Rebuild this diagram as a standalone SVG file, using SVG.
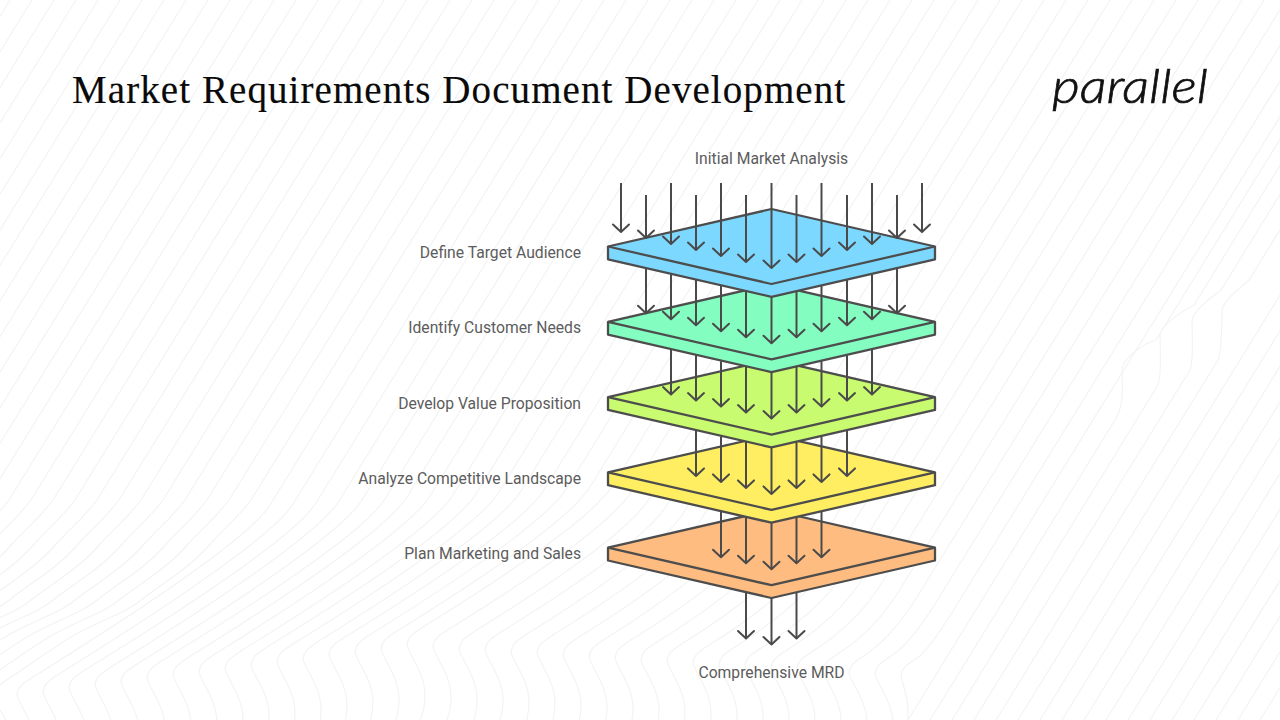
<svg xmlns="http://www.w3.org/2000/svg" width="1280" height="720" viewBox="0 0 1280 720">
<style>
.bg{fill:none;stroke:#f3f3f3;stroke-width:1.2}
.plate polygon{stroke:#4d4d4d;stroke-width:2.3;stroke-linejoin:round}
.plate path{fill:none;stroke:#4d4d4d;stroke-width:2.3;stroke-linejoin:round}
.lbl{font-family:Roboto,"Liberation Sans",sans-serif;font-size:15.7px;fill:#5c5c5c}
.e{text-anchor:end}.m{text-anchor:middle}
#connectors line{stroke:#4a4a4a;stroke-width:2;fill:none;marker-end:url(#a)}
</style>
<defs>
<marker id="a" markerUnits="userSpaceOnUse" viewBox="-10 -10 12 20" refX="0" refY="0" markerWidth="12" markerHeight="20" orient="auto"><path d="M-7.5 -8 L0 0 L-7.5 8" fill="none" stroke="#4a4a4a" stroke-width="2" stroke-linecap="round" stroke-linejoin="round"/></marker>
<path id="wa" d="M15 800C30 770 38 750 30 725C25 712 15 703 17 695C18 686 24 683 33 677C55 663 78 645 100 633C130 617 150 612 167 597C190 580 215 565 233 543C250 525 262 515 273 500L582 0"/>
</defs>
<rect width="1280" height="720" fill="#fff"/>
<g id="background" class="bg">
<use href="#wa" x="-594"/><use href="#wa" x="-572"/><use href="#wa" x="-550"/><use href="#wa" x="-528"/><use href="#wa" x="-506"/><use href="#wa" x="-484"/><use href="#wa" x="-462"/><use href="#wa" x="-440"/><use href="#wa" x="-418"/><use href="#wa" x="-396"/><use href="#wa" x="-374"/><use href="#wa" x="-352"/><use href="#wa" x="-330"/><use href="#wa" x="-308"/><use href="#wa" x="-286"/><use href="#wa" x="-264"/><use href="#wa" x="-242"/><use href="#wa" x="-220"/><use href="#wa" x="-198"/><use href="#wa" x="-176"/><use href="#wa" x="-154"/><use href="#wa" x="-132"/><use href="#wa" x="-110"/><use href="#wa" x="-88"/><use href="#wa" x="-66"/><use href="#wa" x="-44"/><use href="#wa" x="-22"/>
<path d="M17 695c2 10 18 28 18 50s-8 30 -18 50M17 695c1 -9 7 -12 16 -18Q245 545 270 505L582 0"/>
<path d="M43 692c2 10 18 28 18 50s-8 30 -18 50M43 692c1 -9 7 -12 16 -18Q268 544 293 504L604 0"/>
<path d="M69 688c2 10 18 28 18 50s-8 30 -18 50M69 688c1 -9 7 -12 16 -18Q291 543 316 503L626 0"/>
<path d="M95 685c2 10 18 28 18 50s-8 30 -18 50M95 685c1 -9 7 -12 16 -18Q314 541 339 501L648 0"/>
<path d="M121 682c2 10 18 28 18 50s-8 30 -18 50M121 682c1 -9 7 -12 16 -18Q337 540 362 500L670 0"/>
<path d="M147 678c2 10 18 28 18 50s-8 30 -18 50M147 678c1 -9 7 -12 16 -18Q360 539 385 499L692 0"/>
<path d="M173 675c2 10 18 28 18 50s-8 30 -18 50M173 675c1 -9 7 -12 16 -18Q382 537 407 497L714 0"/>
<path d="M199 672c2 10 18 28 18 50s-8 30 -18 50M199 672c1 -9 7 -12 16 -18Q405 536 430 496L736 0"/>
<path d="M225 669c2 10 18 28 18 50s-8 30 -18 50M225 669c1 -9 7 -12 16 -18Q428 535 453 495L758 0"/>
<path d="M251 665c2 10 18 28 18 50s-8 30 -18 50M251 665c1 -9 7 -12 16 -18Q451 534 476 494L780 0"/>
<path d="M277 662c2 10 18 28 18 50s-8 30 -18 50M277 662c1 -9 7 -12 16 -18Q474 532 499 492L802 0"/>
<path d="M303 659c2 10 18 28 18 50s-8 30 -18 50M303 659c1 -9 7 -12 16 -18Q496 531 521 491L824 0"/>
<path d="M329 655c2 10 18 28 18 50s-8 30 -18 50M329 655c1 -9 7 -12 16 -18Q519 530 544 490L846 0"/>
<path d="M355 652c2 10 18 28 18 50s-8 30 -18 50M355 652c1 -9 7 -12 16 -18Q542 528 567 488L868 0"/>
<path d="M381 649c2 10 18 28 18 50s-8 30 -18 50M381 649c1 -9 7 -12 16 -18Q565 527 590 487L890 0"/>
<path d="M407 645c2 10 18 28 18 50s-8 30 -18 50M407 645c1 -9 7 -12 16 -18Q588 525 613 485L912 0"/>
<path d="M433 647c2 10 18 28 18 50s-8 30 -18 50M433 647c1 -9 7 -12 16 -18Q606 532 631 492L934 0"/>
<path d="M459 649c2 10 18 28 18 50s-8 30 -18 50M459 649c1 -9 7 -12 16 -18Q624 539 649 499L956 0"/>
<path d="M485 650c2 10 18 28 18 50s-8 30 -18 50M485 650c1 -9 7 -12 16 -18Q642 545 667 505L978 0"/>
<path d="M511 652c2 10 18 28 18 50s-8 30 -18 50M511 652c1 -9 7 -12 16 -18Q659 552 684 512L1000 0"/>
<path d="M537 653c2 10 18 28 18 50s-8 30 -18 50M537 653c1 -9 7 -12 16 -18Q677 558 702 518L1022 0"/>
<path d="M563 655c2 10 18 28 18 50s-8 30 -18 50M563 655c1 -9 7 -12 16 -18Q695 565 720 525L1044 0"/>
<path d="M589 657c2 10 18 28 18 50s-8 30 -18 50M589 657c1 -9 7 -12 16 -18Q713 571 738 531L1066 0"/>
<path d="M615 658c2 10 18 28 18 50s-8 30 -18 50M615 658c1 -9 7 -12 16 -18Q731 578 756 538L1088 0"/>
<path d="M641 660c2 10 18 28 18 50s-8 30 -18 50M641 660c1 -9 7 -12 16 -18Q749 585 774 545L1110 0"/>
<path d="M667 661c2 10 18 28 18 50s-8 30 -18 50M667 661c1 -9 7 -12 16 -18Q767 591 792 551L1132 0"/>
<path d="M693 663c2 10 18 28 18 50s-8 30 -18 50M693 663c1 -9 7 -12 16 -18Q785 598 810 558L1154 0"/>
<path d="M719 665c2 10 18 28 18 50s-8 30 -18 50M719 665c1 -9 7 -12 16 -18Q803 604 828 564L1176 0"/>
<path d="M745 666c2 10 18 28 18 50s-8 30 -18 50M745 666c1 -9 7 -12 16 -18Q820 611 845 571L1198 0"/>
<path d="M771 668c2 10 18 28 18 50s-8 30 -18 50M771 668c1 -9 7 -12 16 -18Q838 618 863 578L1220 0"/>
<path d="M797 669c2 10 18 28 18 50s-8 30 -18 50M797 669c1 -9 7 -12 16 -18Q856 624 881 584L1242 0"/>
<path d="M823 671c2 10 18 28 18 50s-8 30 -18 50M823 671c1 -9 7 -12 16 -18Q874 631 899 591L1264 0"/>
<path d="M849 673c2 10 18 28 18 50s-8 30 -18 50M849 673c1 -9 7 -12 16 -18Q892 637 917 597L1286 0"/>
<path d="M875 674c2 10 18 28 18 50s-8 30 -18 50M875 674c1 -9 7 -12 16 -18Q910 644 935 604L1308 0"/>
<path d="M901 676c2 10 10 28 6 50M901 676c1 -9 7 -12 16 -18Q928 651 953 611L1330 0"/>
<path d="M908 720L1352 0"/>
<path d="M930 720L1115 420C1125 404 1122 385 1122 370C1122 360 1140 345 1156 340L1366 0"/>
<path d="M952 720L1158 385C1162 375 1160 350 1160 335C1162 325 1180 312 1194 305L1382 0"/>
<path d="M974 720L1190 370C1194 360 1192 335 1192 320C1194 310 1210 298 1221 290L1400 0"/>
<path d="M996 720L1218 360C1222 350 1222 325 1222 310C1224 300 1240 288 1249 280L1422 0"/>
<path d="M1018 720L1462 0M1040 720L1484 0M1062 720L1506 0M1084 720L1528 0M1106 720L1550 0M1128 720L1572 0M1150 720L1594 0M1172 720L1616 0M1194 720L1638 0M1216 720L1660 0M1238 720L1682 0M1260 720L1704 0"/>
</g>
<text id="title" x="72" y="103" font-family="'Liberation Serif',serif" font-size="39" letter-spacing="1.08" fill="#0a0a0a" stroke="#0a0a0a" stroke-width="0.15">Market Requirements Document Development</text>
<text id="logo" x="1052" y="103" font-family="Lato,'Open Sans',sans-serif" font-style="italic" font-weight="300" font-size="48" fill="#111" stroke="#111" stroke-width="0.7" textLength="156" lengthAdjust="spacingAndGlyphs">parallel</text>
<g id="plate5" class="plate"><polygon fill="#FFBC80" points="608,547.7 771.5,510 935,547.7 935,560.5 771.5,598 608,560.5"/><path d="M608 547.7L771.5 585.2L935 547.7"/></g>
<g id="plate4" class="plate"><polygon fill="#FFEE62" points="608,472.4 771.5,434.9 935,472.4 935,485.2 771.5,522.7 608,485.2"/><path d="M608 472.4L771.5 509.9L935 472.4"/></g>
<g id="plate3" class="plate"><polygon fill="#C9FB70" points="608,397.1 771.5,359.6 935,397.1 935,409.9 771.5,447.4 608,409.9"/><path d="M608 397.1L771.5 434.6L935 397.1"/></g>
<g id="plate2" class="plate"><polygon fill="#84FDC0" points="608,321.8 771.5,284.3 935,321.8 935,334.6 771.5,372.1 608,334.6"/><path d="M608 321.8L771.5 359.3L935 321.8"/></g>
<g id="plate1" class="plate"><polygon fill="#7DD8FF" points="608,246.5 771.5,209 935,246.5 935,259.3 771.5,296.8 608,259.3"/><path d="M608 246.5L771.5 284L935 246.5"/></g>
<g id="connectors">
<line x1="621" y1="183" x2="621" y2="232"/><line x1="646" y1="195" x2="646" y2="238"/><line x1="671" y1="183" x2="671" y2="244"/><line x1="696" y1="195" x2="696" y2="250"/><line x1="721" y1="183" x2="721" y2="256"/><line x1="746" y1="195" x2="746" y2="262"/><line x1="771.5" y1="183" x2="771.5" y2="268"/><line x1="796.5" y1="195" x2="796.5" y2="262"/><line x1="821.5" y1="183" x2="821.5" y2="256"/><line x1="847" y1="195" x2="847" y2="250"/><line x1="872" y1="183" x2="872" y2="244"/><line x1="897" y1="195" x2="897" y2="238"/><line x1="922" y1="183" x2="922" y2="232"/>
<line x1="646" y1="268.5" x2="646" y2="313.3"/><line x1="671" y1="274.5" x2="671" y2="319.3"/><line x1="696" y1="280" x2="696" y2="325.3"/><line x1="721" y1="286" x2="721" y2="331.3"/><line x1="746" y1="291.5" x2="746" y2="337.3"/><line x1="771.5" y1="297" x2="771.5" y2="343.3"/><line x1="796.5" y1="291.5" x2="796.5" y2="337.3"/><line x1="821.5" y1="286" x2="821.5" y2="331.3"/><line x1="847" y1="280" x2="847" y2="325.3"/><line x1="872" y1="274.5" x2="872" y2="319.3"/><line x1="897" y1="268.5" x2="897" y2="313.3"/>
<line x1="671" y1="349.8" x2="671" y2="394.6"/><line x1="696" y1="355.3" x2="696" y2="400.6"/><line x1="721" y1="361.3" x2="721" y2="406.6"/><line x1="746" y1="366.8" x2="746" y2="412.6"/><line x1="771.5" y1="372.3" x2="771.5" y2="418.6"/><line x1="796.5" y1="366.8" x2="796.5" y2="412.6"/><line x1="821.5" y1="361.3" x2="821.5" y2="406.6"/><line x1="847" y1="355.3" x2="847" y2="400.6"/><line x1="872" y1="349.8" x2="872" y2="394.6"/>
<line x1="696" y1="430.6" x2="696" y2="475.9"/><line x1="721" y1="436.6" x2="721" y2="481.9"/><line x1="746" y1="442.1" x2="746" y2="487.9"/><line x1="771.5" y1="447.6" x2="771.5" y2="493.9"/><line x1="796.5" y1="442.1" x2="796.5" y2="487.9"/><line x1="821.5" y1="436.6" x2="821.5" y2="481.9"/><line x1="847" y1="430.6" x2="847" y2="475.9"/>
<line x1="721" y1="511.9" x2="721" y2="557.2"/><line x1="746" y1="517.4" x2="746" y2="563.2"/><line x1="771.5" y1="522.9" x2="771.5" y2="569.2"/><line x1="796.5" y1="517.4" x2="796.5" y2="563.2"/><line x1="821.5" y1="511.9" x2="821.5" y2="557.2"/>
<line x1="746" y1="592.7" x2="746" y2="638.5"/><line x1="771.5" y1="598.2" x2="771.5" y2="644.5"/><line x1="796.5" y1="592.7" x2="796.5" y2="638.5"/>
</g>
<g id="labels">
<text class="lbl m" x="771.5" y="163.5">Initial Market Analysis</text>
<text class="lbl e" x="581" y="258">Define Target Audience</text>
<text class="lbl e" x="581" y="333.3">Identify Customer Needs</text>
<text class="lbl e" x="581" y="408.6">Develop Value Proposition</text>
<text class="lbl e" x="581" y="484">Analyze Competitive Landscape</text>
<text class="lbl e" x="581" y="559.2">Plan Marketing and Sales</text>
<text class="lbl m" x="771.5" y="678.3">Comprehensive MRD</text>
</g>
</svg>
